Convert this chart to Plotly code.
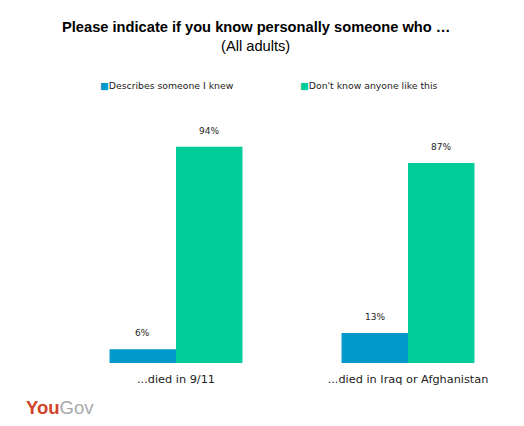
import plotly.graph_objects as go

categories = ["...died in 9/11", "...died in Iraq or Afghanistan"]
series_names = ["Describes someone I knew", "Don't know anyone like this"]
knew_values = [6, 13]
dont_know_values = [94, 87]
colors = ["#0099CC", "#00CC99"]

# plot area in pixels: x 60..524, y 133..363
L, R, T, B = 60, 0, 133, 63
W, H = 524, 426
pw, ph = W - L - R, H - T - B

def px_x(p):
    return (p - L) / pw

def px_y(p):
    return (H - B - p) / ph

fig = go.Figure()
all_values = [knew_values, dont_know_values]
bargap = 0.427
bar_w = (1 - bargap) / 2
for i, (name, vals) in enumerate(zip(series_names, all_values)):
    fig.add_trace(go.Bar(x=categories, y=vals, name=name, marker_color=colors[i],
                         marker_line_width=0, showlegend=False, hoverinfo="skip"))
    fig.add_trace(go.Scatter(x=[None], y=[None], mode="markers",
                             name=f"<span style='color:{colors[i]}'>■</span>{name}",
                             marker=dict(symbol="square", size=1, color="rgba(0,0,0,0)")))
    off = (i - 0.5) * bar_w
    for j, v in enumerate(vals):
        fig.add_annotation(x=j + off, y=v, xref="x", yref="y", text=f"{v}%",
                           showarrow=False, yshift=16, yanchor="middle",
                           font=dict(family="DejaVu Sans", size=9, color="#222"))

fig.add_annotation(xref="paper", yref="paper", x=px_x(256), y=px_y(27),
                   xanchor="center", yanchor="middle",
                   text="<b>Please indicate if you know personally someone who …</b>",
                   showarrow=False, font=dict(family="Liberation Sans", size=14.67, color="#000"))
fig.add_annotation(xref="paper", yref="paper", x=px_x(255), y=px_y(46),
                   xanchor="center", yanchor="middle",
                   text="(All adults)", showarrow=False,
                   font=dict(family="Liberation Sans", size=14.67, color="#000"))
fig.add_annotation(xref="paper", yref="paper", x=px_x(24), y=px_y(407),
                   xanchor="left", yanchor="middle",
                   text="<b><span style='color:#D2432B'>You</span></b><span style='color:#A9A9A9'>Gov</span>",
                   showarrow=False, font=dict(family="Liberation Sans", size=18.5))

fig.update_layout(
    width=W, height=H,
    margin=dict(l=L, r=R, t=T, b=B),
    paper_bgcolor="white", plot_bgcolor="white",
    barmode="group", bargap=bargap, bargroupgap=0,
    xaxis=dict(showgrid=False, showline=False, ticks="", zeroline=False,
               ticklabelstandoff=8,
               tickfont=dict(family="DejaVu Sans", size=11.3, color="#222")),
    yaxis=dict(range=[0, 100], visible=False, showgrid=False, zeroline=False),
    legend=dict(orientation="h", xref="container", yref="container",
                x=60 / W, y=1 - 85 / H, yanchor="middle", xanchor="left",
                entrywidth=155, entrywidthmode="pixels",
                font=dict(family="DejaVu Sans", size=9.3, color="#222"),
                itemclick=False, bgcolor="rgba(0,0,0,0)"),
    showlegend=True,
)
fig.write_html("out.html", config={"displayModeBar": False},
               post_script="document.body.style.margin='0';")
